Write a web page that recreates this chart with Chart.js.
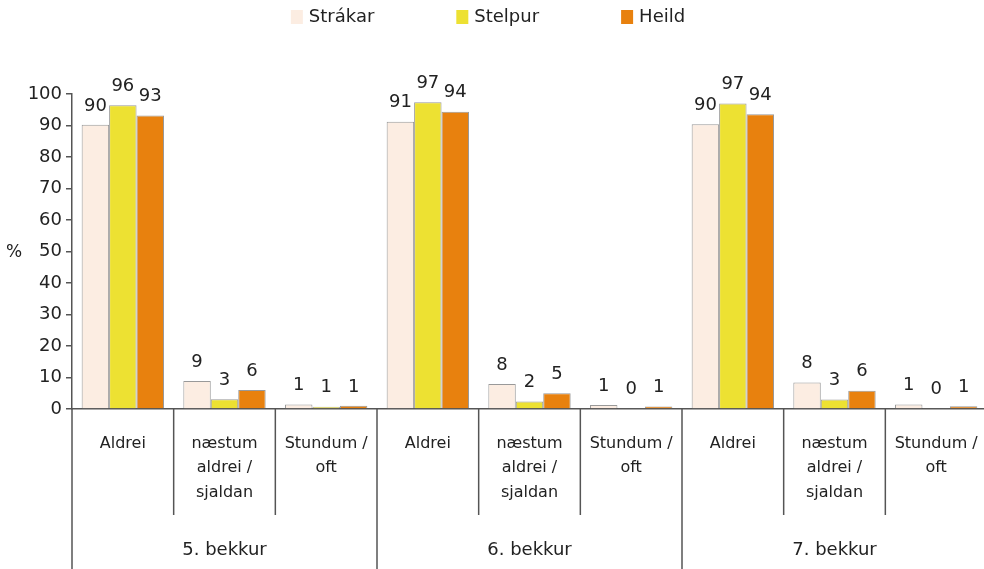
<!DOCTYPE html>
<html>
<head>
<meta charset="utf-8">
<script src="https://cdn.jsdelivr.net/npm/chart.js@4/dist/chart.umd.min.js"></script>
<style>
  html, body { margin: 0; padding: 0; background: #fff; overflow: hidden; }
  #wrap { position: relative; width: 987px; height: 569px; }
</style>
</head>
<body>
<div id="wrap"><canvas id="chart"></canvas></div>
<script>
// categories (multi-line labels) and grade groups
const categories = [
  ['Aldrei'], ['næstum', 'aldrei /', 'sjaldan'], ['Stundum /', 'oft'],
  ['Aldrei'], ['næstum', 'aldrei /', 'sjaldan'], ['Stundum /', 'oft'],
  ['Aldrei'], ['næstum', 'aldrei /', 'sjaldan'], ['Stundum /', 'oft']
];
const groups = ['5. bekkur', '6. bekkur', '7. bekkur'];

// values in %
const strakar = [90.2, 8.9, 1.4, 91.2, 7.9, 1.3, 90.4, 8.4, 1.4];
const stelpur = [96.4, 3.1, 0.7, 97.4, 2.4, 0.3, 97.0, 3.0, 0.3];
const heild   = [93.2, 6.0, 1.0, 94.4, 5.0, 0.8, 93.6, 5.8, 0.9];

const yTicks = [0, 10, 20, 30, 40, 50, 60, 70, 80, 90, 100];

const FONT = '"DejaVu Sans", sans-serif';
const TEXT = '#222';
const AXIS = '#555';

const decor = {
  id: 'decor',
  afterDatasetsDraw(chart) {
    const ctx = chart.ctx;
    const x = chart.scales.x;
    const y = chart.scales.y;
    const base = y.getPixelForValue(0);
    ctx.save();

    // value labels above bars
    ctx.font = '18px ' + FONT;
    ctx.fillStyle = TEXT;
    ctx.textAlign = 'center';
    ctx.textBaseline = 'middle';
    chart.data.datasets.forEach((ds, di) => {
      chart.getDatasetMeta(di).data.forEach((bar, i) => {
        ctx.fillText(String(Math.round(ds.data[i])), bar.x, bar.y - 19);
      });
    });

    // divider lines between categories and groups
    ctx.strokeStyle = AXIS;
    ctx.lineWidth = 1.5;
    const n = chart.data.labels.length;
    for (let i = 0; i <= n; i++) {
      let px;
      if (i === 0) px = x.left;
      else if (i === n) px = x.right;
      else px = (x.getPixelForTick(i - 1) + x.getPixelForTick(i)) / 2;
      const long = i % 3 === 0;
      ctx.beginPath();
      ctx.moveTo(px, base);
      ctx.lineTo(px, long ? chart.height : base + 106);
      ctx.stroke();
    }

    // group labels
    ctx.font = '18px ' + FONT;
    ctx.fillStyle = TEXT;
    groups.forEach((g, gi) => {
      const cx = (x.getPixelForTick(gi * 3) + x.getPixelForTick(gi * 3 + 2)) / 2;
      ctx.fillText(g, cx, base + 141);
    });

    // axis unit
    ctx.font = '17px ' + FONT;
    ctx.textAlign = 'left';
    ctx.fillText('%', 6, y.getPixelForValue(50) + 1);

    // legend
    ctx.font = '18px ' + FONT;
    const gap = 82, box = 12, tgap = 6;
    const items = chart.data.datasets.map(ds => ({
      label: ds.label, color: ds.backgroundColor, w: box + tgap + ctx.measureText(ds.label).width
    }));
    const total = items.reduce((s, it) => s + it.w, 0) + gap * (items.length - 1);
    let lx = 488 - total / 2;
    items.forEach(it => {
      ctx.fillStyle = it.color;
      ctx.fillRect(lx, 10, box, 14);
      ctx.fillStyle = TEXT;
      ctx.textBaseline = 'middle';
      ctx.fillText(it.label, lx + box + tgap, 17);
      lx += it.w + gap;
    });

    ctx.restore();
  }
};

new Chart(document.getElementById('chart'), {
  type: 'bar',
  data: {
    labels: categories,
    datasets: [
      { label: 'Strákar', data: strakar, backgroundColor: '#FCEDE2' },
      { label: 'Stelpur', data: stelpur, backgroundColor: '#EDE132' },
      { label: 'Heild',   data: heild,   backgroundColor: '#E8810E' }
    ]
  },
  options: {
    responsive: true,
    maintainAspectRatio: false,
    animation: false,
    layout: { padding: { top: 94, right: 0, bottom: 0, left: 0 } },
    datasets: {
      bar: {
        borderColor: '#999',
        borderWidth: 1,
        categoryPercentage: 0.81,
        barPercentage: 1.0
      }
    },
    plugins: {
      legend: { display: false },
      tooltip: { enabled: false }
    },
    scales: {
      x: {
        grid: { display: false, drawTicks: false },
        border: { color: AXIS, width: 1.5 },
        ticks: {
          color: TEXT,
          font: { family: FONT, size: 16, lineHeight: 1.55 },
          padding: 22,
          maxRotation: 0,
          autoSkip: false
        },
        afterFit(scale) {
          scale.height = 160;
          scale.paddingLeft = 0;
          scale.paddingRight = 0;
        }
      },
      y: {
        min: 0,
        max: 100,
        afterBuildTicks(scale) { scale.ticks = yTicks.map(v => ({ value: v })); },
        grid: { drawOnChartArea: false, drawTicks: true, tickLength: 6, color: AXIS, lineWidth: 1.5 },
        border: { color: AXIS, width: 1.5 },
        ticks: { color: TEXT, font: { family: FONT, size: 18 }, padding: 4 },
        afterFit(scale) { scale.width = 72; }
      }
    }
  },
  plugins: [decor]
});
</script>
</body>
</html>
